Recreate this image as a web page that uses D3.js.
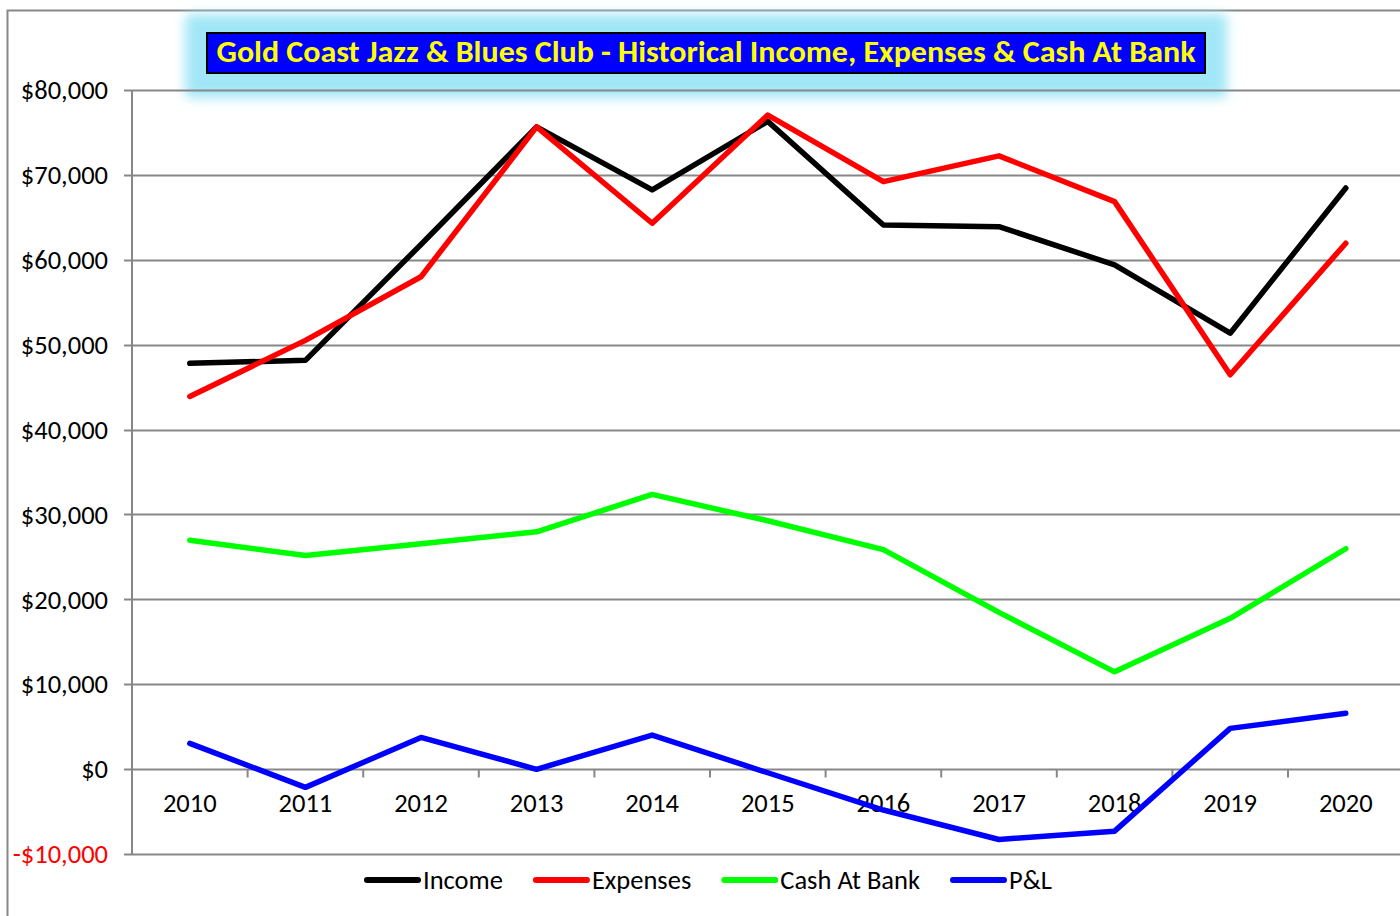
<!DOCTYPE html>
<html>
<head>
<meta charset="utf-8">
<script src="https://cdn.jsdelivr.net/npm/d3@7"></script>
<style>
  body { margin: 0; background: #fff; }
  svg text { font-family: Carlito, "Liberation Sans Narrow", "Open Sans", sans-serif; }
</style>
</head>
<body>
<div id="chart"></div>
<script>
const years = ["2010","2011","2012","2013","2014","2015","2016","2017","2018","2019","2020"];
const income   = [47800, 48150, 61800, 75650, 68230, 76300, 64100, 63900, 59400, 51350, 68450];
const expenses = [43900, 50500, 58000, 75650, 64300, 77050, 69200, 72240, 66850, 46450, 61950];
const cash     = [26950, 25150, 26550, 27950, 32350, 29250, 25850, 18450, 11450, 17750, 25950];
const pnl      = [3020, -2160, 3720, -30, 4000, -440, -4830, -8300, -7320, 4790, 6560];
const yTicks   = [-10000, 0, 10000, 20000, 30000, 40000, 50000, 60000, 70000, 80000];
const seriesNames  = ["Income", "Expenses", "Cash At Bank", "P&L"];
const seriesColors = ["#000000", "#ff0000", "#00ff00", "#0000ff"];
const title = "Gold Coast Jazz & Blues Club - Historical Income, Expenses & Cash At Bank";

const W = 1400, H = 916;
const gridCol = "#878787";
const fontSize = 26.5;
const plot = { left: 132, right: 1403.6, top: 90, bottom: 853.9 };

const svg = d3.select("#chart").append("svg")
  .attr("width", W).attr("height", H);

svg.append("rect").attr("width", W).attr("height", H).attr("fill", "#fff");

// chart frame
svg.append("rect")
  .attr("x", 7.5).attr("y", 10.5)
  .attr("width", W + 20).attr("height", H + 20)
  .attr("fill", "none").attr("stroke", gridCol).attr("stroke-width", 2);

const x = d3.scaleBand().domain(years).range([plot.left, plot.right]);
const y = d3.scaleLinear().domain([-10000, 80000]).range([plot.bottom, plot.top]);

const fmt = v => (v < 0 ? "-$" : "$") + d3.format(",")(Math.abs(v));

// glow behind the title
const defs = svg.append("defs");
defs.append("filter").attr("id", "glow")
  .attr("x", "-20%").attr("y", "-100%").attr("width", "140%").attr("height", "300%")
  .append("feGaussianBlur").attr("stdDeviation", 6);

const tb = { x: 207, y: 33, w: 998, h: 40 };
svg.append("rect")
  .attr("x", tb.x - 22).attr("y", tb.y - 19)
  .attr("width", tb.w + 44).attr("height", tb.h + 44)
  .attr("rx", 6)
  .attr("fill", "#a2e7f7")
  .attr("filter", "url(#glow)");

// gridlines + y ticks
svg.append("g").selectAll("line")
  .data(yTicks)
  .join("line")
  .attr("x1", plot.left - 8).attr("x2", plot.right)
  .attr("y1", d => Math.round(y(d)) + 0.5).attr("y2", d => Math.round(y(d)) + 0.5)
  .attr("stroke", gridCol).attr("stroke-width", 2);

svg.append("line")
  .attr("x1", plot.left).attr("x2", plot.left)
  .attr("y1", plot.top).attr("y2", plot.bottom)
  .attr("stroke", gridCol).attr("stroke-width", 2);

svg.append("g").selectAll("text")
  .data(yTicks)
  .join("text")
  .attr("x", 108).attr("y", d => y(d))
  .attr("dy", "0.35em")
  .attr("text-anchor", "end")
  .attr("font-size", fontSize)
  .attr("fill", d => d < 0 ? "#ff0000" : "#000")
  .text(fmt);

// x axis ticks on the $0 line
const y0 = Math.round(y(0)) + 0.5;
svg.append("g").selectAll("line")
  .data(years.slice(1))
  .join("line")
  .attr("x1", d => x(d)).attr("x2", d => x(d))
  .attr("y1", y0).attr("y2", y0 + 8)
  .attr("stroke", gridCol).attr("stroke-width", 2);

svg.append("g").selectAll("text")
  .data(years)
  .join("text")
  .attr("x", d => x(d) + x.bandwidth() / 2)
  .attr("y", 812)
  .attr("text-anchor", "middle")
  .attr("font-size", fontSize)
  .text(d => d);

// title box
svg.append("rect")
  .attr("x", tb.x).attr("y", tb.y).attr("width", tb.w).attr("height", tb.h)
  .attr("fill", "#0000ff").attr("stroke", "#000").attr("stroke-width", 2);
svg.append("text")
  .attr("x", tb.x + tb.w / 2).attr("y", tb.y + 29)
  .attr("text-anchor", "middle")
  .attr("font-size", 31).attr("font-weight", "bold")
  .attr("fill", "#ffff00")
  .attr("textLength", 979).attr("lengthAdjust", "spacingAndGlyphs")
  .text(title);

// series lines
const line = d3.line()
  .x((d, i) => x(years[i]) + x.bandwidth() / 2)
  .y(d => y(d));

const allSeries = [income, expenses, cash, pnl];
svg.append("g").selectAll("path")
  .data(allSeries)
  .join("path")
  .attr("d", line)
  .attr("fill", "none")
  .attr("stroke", (d, i) => seriesColors[i])
  .attr("stroke-width", 5.5)
  .attr("stroke-linecap", "round")
  .attr("stroke-linejoin", "round");

// legend
const legend = svg.append("g");
let lx = 367;
seriesNames.forEach((name, i) => {
  legend.append("line")
    .attr("x1", lx).attr("x2", lx + 51)
    .attr("y1", 880).attr("y2", 880)
    .attr("stroke", seriesColors[i]).attr("stroke-width", 6)
    .attr("stroke-linecap", "round");
  const t = legend.append("text")
    .attr("x", lx + 56).attr("y", 880).attr("dy", "0.35em")
    .attr("font-size", fontSize)
    .text(name);
  lx += 56 + t.node().getComputedTextLength() + 33;
});
</script>
</body>
</html>
